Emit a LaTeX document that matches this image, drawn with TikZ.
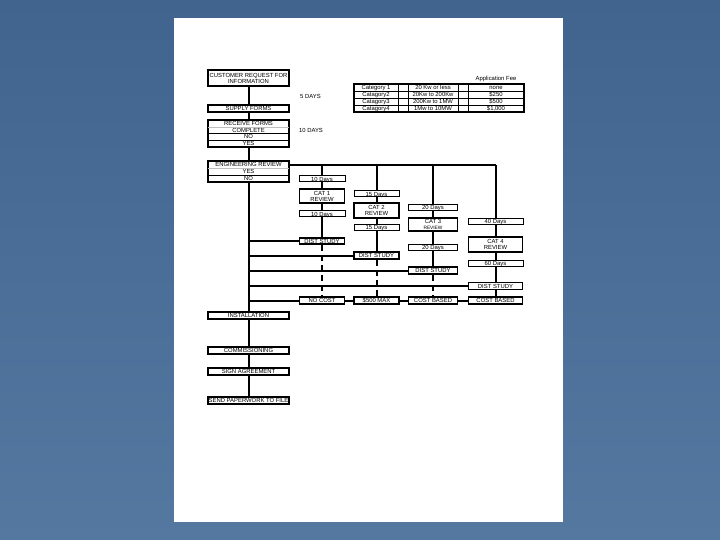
\documentclass[tikz,border=0pt]{standalone}
\usepackage{fontspec}
\setmainfont{Liberation Sans}
\definecolor{bgtop}{RGB}{64,100,142}
\definecolor{bgbot}{RGB}{84,120,160}
\begin{document}
\begin{tikzpicture}[x=1pt,y=-1pt,
  every node/.style={inner sep=0pt, font=\fontsize{5.9}{6}\selectfont},
  sl/.style={text height=4.3pt, text depth=0.2pt},
  tbox/.style={sl, draw, line width=1pt, fill=white},
  kbox/.style={sl, draw, line width=1.8pt, fill=white},
  kboxm/.style={draw, line width=1.8pt, fill=white, align=center},
  row/.style={sl, minimum width=81pt, minimum height=7pt},
  conn/.style={line width=2pt},
  dconn/.style={line width=2pt, dash pattern=on 6pt off 4pt},
  tline/.style={line width=0.9pt}]
\useasboundingbox (0,0) rectangle (720,540);
\shade[top color=bgtop, bottom color=bgbot] (0,0) rectangle (720,540);
\fill[white] (174,18) rectangle (563,522);

% main column
\node[kboxm, minimum width=81pt, minimum height=16pt] (cust) at (248.5,78) {CUSTOMER REQUEST FOR\\INFORMATION};
\node[kbox, row] (supply) at (248.5,108.5) {SUPPLY FORMS};
\node[row, minimum height=6.75pt] (rf) at (248.5,123.4) {RECEIVE FORMS};
\node[row, minimum height=6.75pt] (comp) at (248.5,130.1) {COMPLETE};
\node[row, minimum height=6.75pt] (no1) at (248.5,136.9) {NO};
\node[row, minimum height=6.75pt] (yes1) at (248.5,143.6) {YES};
\node[row] (eng) at (248.5,164.5) {ENGINEERING REVIEW};
\node[row] (yes2) at (248.5,171.5) {YES};
\node[row] (no2) at (248.5,178.5) {NO};
\node[kbox, row] (inst) at (248.5,315.5) {INSTALLATION};
\node[kbox, row, minimum height=6.5pt] (comm) at (248.5,350.5) {COMMISSIONING};
\node[kbox, row] (sign) at (248.5,371.5) {SIGN AGREEMENT};
\node[kbox, row] (send) at (248.5,400.5) {SEND PAPERWORK TO FILE};

\draw[line width=1.8pt] (rf.north west) rectangle (yes1.south east);
\draw[gray!50, line width=0.7pt] (rf.south west) -- (rf.south east);
\draw[tline] (comp.south west) -- (comp.south east);
\draw[tline] (no1.south west) -- (no1.south east);
\draw[line width=1.8pt] (eng.north west) rectangle (no2.south east);
\draw[gray!50, line width=0.7pt] (eng.south west) -- (eng.south east);
\draw[tline] (yes2.south west) -- (yes2.south east);

\node[sl] (d5) at (310.5,96) {5 DAYS};
\node[sl] (d10) at (311,130) {10 DAYS};

% table
\node[sl] (appfee) at (496,78) {Application Fee};
\foreach \r/\a/\b [count=\i] in {{Category 1}/{20 Kw or less}/{none},{Catagory2}/{20Kw to 200Kw}/{\$250},{Catagory3}/{200Kw to 1MW}/{\$500},{Catagory4}/{1Mw to 10MW}/{\$1,000}}{
  \node[sl, minimum width=44pt, minimum height=7pt] (ta\i) at (376,80.5+7*\i) {\r};
  \node[sl, minimum width=50pt, minimum height=7pt] (tb\i) at (433,80.5+7*\i) {\a};
  \node[sl, minimum width=56pt, minimum height=7pt] (tc\i) at (496,80.5+7*\i) {\b};
  \draw[tline] (354,77+7*\i) -- (524,77+7*\i);
}
\draw[tline] (398,84) -- (398,112);
\draw[tline] (408,84) -- (408,112);
\draw[tline] (458,84) -- (458,112);
\draw[tline] (468,84) -- (468,112);
\draw[line width=1.3pt] (354,84) rectangle (524,112);

% columns
\node[tbox, minimum width=46pt, minimum height=6pt] (d1a) at (322,179) {10 Days};
\node[kboxm, minimum width=45pt, minimum height=14pt] (cat1) at (322,196) {CAT 1\\REVIEW};
\node[tbox, minimum width=46pt, minimum height=6pt] (d1b) at (322,214) {10 Days};
\node[kbox, minimum width=45pt, minimum height=6pt] (ds1) at (322,241) {DIST STUDY};
\node[kbox, minimum width=45pt, minimum height=6.5pt] (cost1) at (322,300.5) {NO COST};

\node[tbox, minimum width=45pt, minimum height=6pt] (d2a) at (376.5,194) {15 Days};
\node[kboxm, minimum width=45pt, minimum height=15pt] (cat2) at (376.5,210.5) {CAT 2\\REVIEW};
\node[tbox, minimum width=45pt, minimum height=6.5pt] (d2b) at (376.5,227.5) {15 Days};
\node[kbox, minimum width=45pt, minimum height=7pt] (ds2) at (376.5,255.5) {DIST STUDY};
\node[kbox, minimum width=45pt, minimum height=6.5pt] (cost2) at (376.5,300.5) {\$500 MAX};

\node[tbox, minimum width=49pt, minimum height=6.5pt] (d3a) at (433,207.5) {20 Days};
\node[kboxm, minimum width=49pt, minimum height=13pt] (cat3) at (433,224.5) {CAT 3\\{\fontsize{4.8}{5}\selectfont REVIEW}};
\node[tbox, minimum width=49pt, minimum height=6.5pt] (d3b) at (433,247.5) {20 Days};
\node[kbox, minimum width=49pt, minimum height=7pt] (ds3) at (433,270.5) {DIST STUDY};
\node[kbox, minimum width=49pt, minimum height=6.5pt] (cost3) at (433,300.5) {COST BASED};

\node[tbox, minimum width=55pt, minimum height=6.5pt] (d4a) at (495.5,221.5) {40 Days};
\node[kboxm, minimum width=54pt, minimum height=15pt] (cat4) at (495.5,244.5) {CAT 4\\REVIEW};
\node[tbox, minimum width=55pt, minimum height=6.5pt] (d4b) at (495.5,263.5) {60 Days};
\node[kbox, minimum width=54pt, minimum height=7pt] (ds4) at (495.5,286) {DIST STUDY};
\node[kbox, minimum width=54pt, minimum height=6.5pt] (cost4) at (495.5,300.5) {COST BASED};

% main vertical
\draw[conn] (cust.south) -- (supply.north);
\draw[conn] (supply.south) -- (rf.north);
\draw[conn] (yes1.south) -- (eng.north);
\draw[conn] (no2.south) -- (inst.north);
\draw[conn] (inst.south) -- (comm.north);
\draw[conn] (comm.south) -- (sign.north);
\draw[conn] (sign.south) -- (send.north);

% branch to categories
\coordinate (br) at ([yshift=-1pt]eng.east);
\draw[conn] (br) -- (br -| d4a.north);
\draw[conn] (br -| d1a.north) -- (d1a.north);
\draw[conn] (br -| d2a.north) -- (d2a.north);
\draw[conn] (br -| d3a.north) -- (d3a.north);
\draw[conn] (br -| d4a.north) -- (d4a.north);

\foreach \c in {1,2,3,4}{
  \draw[conn] (d\c a.south) -- (cat\c.north);
  \draw[conn] (cat\c.south) -- (d\c b.north);
  \draw[conn] (d\c b.south) -- (ds\c.north);
}
\draw[dconn] (ds1.south) -- (cost1.north);
\draw[dconn] (ds2.south) -- (cost2.north);
\draw[dconn] (ds3.south) -- (cost3.north);
\draw[conn] (ds4.south) -- (cost4.north);

% horizontals from main line
\draw[conn] (no2.south |- ds1.west) -- (ds1.west);
\draw[conn] (no2.south |- ds2.west) -- (ds2.west);
\draw[conn] (no2.south |- ds3.west) -- (ds3.west);
\draw[conn] (no2.south |- ds4.west) -- (ds4.west);
\draw[conn] (no2.south |- cost1.west) -- (cost1.west);
\draw[conn] (cost1.east) -- (cost2.west);
\draw[conn] (cost2.east) -- (cost3.west);
\draw[conn] (cost3.east) -- (cost4.west);
\end{tikzpicture}
\end{document}
